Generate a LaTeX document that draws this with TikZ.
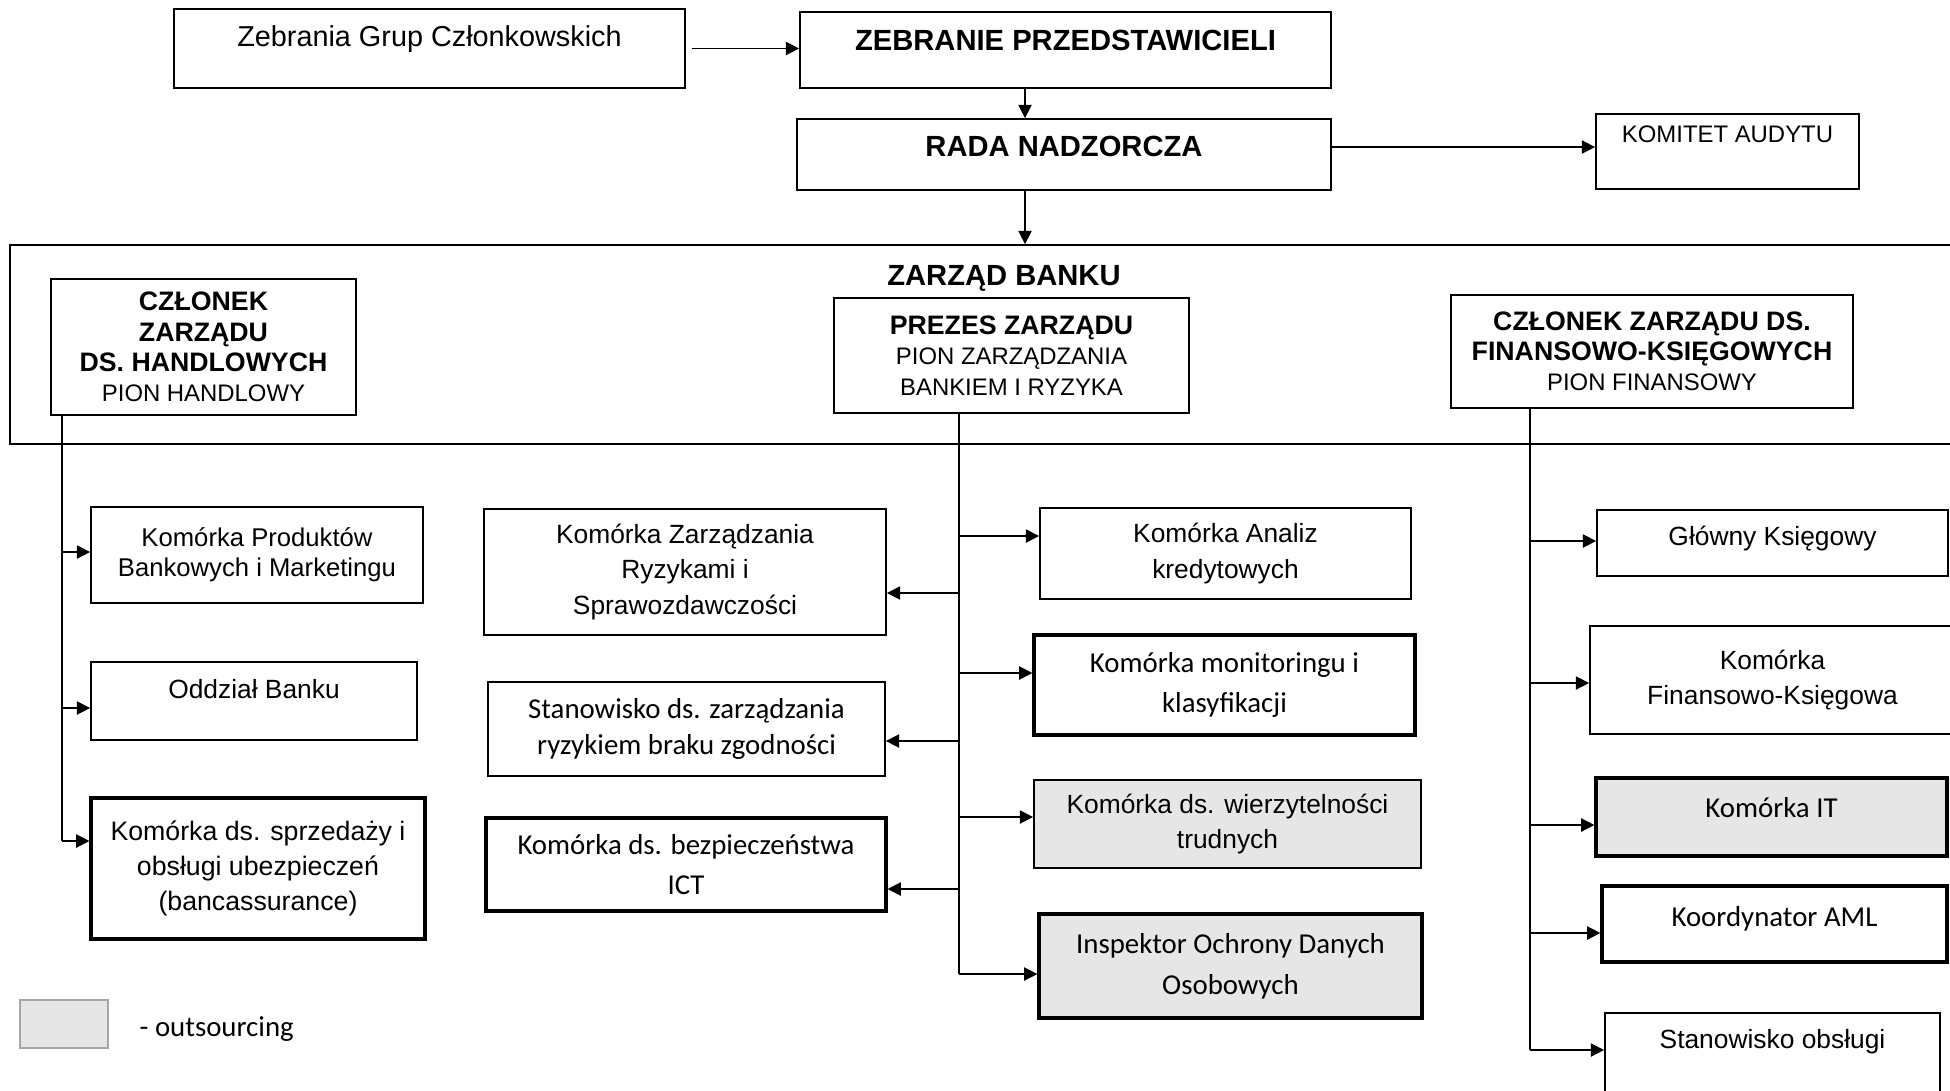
\documentclass[tikz,border=0pt]{standalone}
\usepackage{fontspec}
\setmainfont{Liberation Sans}
\newfontfamily\calib{Carlito}
\usetikzlibrary{arrows.meta}
\definecolor{outgrey}{RGB}{230,230,230}

\begin{document}
\begin{tikzpicture}[
  box/.style={draw, line width=0.5pt, inner sep=0pt, align=center},
  tbox/.style={box, line width=0.9pt},
  arr/.style={line width=0.4pt, -{Triangle[length=3.8pt,width=3.8pt]}},
  cal/.style={font=\calib\fontsize{8.2}{10.2}\selectfont},
  ari/.style={font=\fontsize{7.5}{10.2}\selectfont},
  hdr/.style={font=\fontsize{7.6}{8.6}\selectfont}
]
\useasboundingbox (0,0) rectangle (19.5,-10.9);
\clip (0,0) rectangle (19.5,-10.9);

 \node [box, minimum width=5.11cm, minimum height=0.79cm, text height=10.8pt, text depth=11.7pt, font=\fontsize{8.2}{10}\selectfont] (zgc) at (4.295,-0.485) {Zebrania Grup Członkowskich};
 \node [box, minimum width=5.31cm, minimum height=0.76cm, text height=10.8pt, text depth=10.8pt, font=\fontsize{8.3}{10}\selectfont\bfseries] (zp) at (10.655,-0.50) {ZEBRANIE PRZEDSTAWICIELI};
 \node [box, minimum width=5.34cm, minimum height=0.71cm, text height=10.8pt, text depth=9.4pt, font=\fontsize{8.3}{10}\selectfont\bfseries] (rn) at (10.64,-1.545) {RADA NADZORCZA};
 \node [box, minimum width=2.63cm, minimum height=0.75cm, text height=8pt, text depth=13.3pt, font=\fontsize{6.8}{10}\selectfont] (ka) at (17.275,-1.515) {KOMITET AUDYTU};

\draw [arr] ([xshift=0.06cm]zgc.east) -- (zp.west |- zgc.east);
\draw [arr] ([xshift=-0.405cm]zp.south) -- ([xshift=-0.405cm]zp.south |- rn.north);
\draw [arr] ([yshift=0.075cm]rn.east) -- ([yshift=0.075cm]rn.east -| ka.west);

 \node [box, minimum width=19.6cm, minimum height=1.99cm] (zb) at (9.9,-3.445) {};
 \node [anchor=base, font=\fontsize{8.3}{10}\selectfont\bfseries] (zbt) at (10.04,-2.85) {ZARZĄD BANKU};
\draw [arr] ([xshift=-0.39cm]rn.south) -- ([xshift=-0.39cm]rn.south |- zb.north);

 \node [box, hdr, minimum width=3.05cm, minimum height=1.36cm] (ch) at (2.035,-3.47) {\textbf{CZŁONEK}\\\textbf{ZARZĄDU}\\\textbf{DS. HANDLOWYCH}\\{\fontsize{6.8}{8.6}\selectfont PION HANDLOWY}};
 \node [box, hdr, minimum width=3.55cm, minimum height=1.15cm] (pz) at (10.115,-3.555) {\textbf{PREZES ZARZĄDU}\\{\fontsize{6.8}{8}\selectfont PION ZARZĄDZANIA}\\{\fontsize{6.8}{8}\selectfont BANKIEM I RYZYKA}};
 \node [box, hdr, minimum width=4.02cm, minimum height=1.13cm] (cf) at (16.52,-3.515) {\textbf{CZŁONEK ZARZĄDU DS.}\\\textbf{FINANSOWO-KSIĘGOWYCH}\\{\fontsize{6.8}{8.6}\selectfont PION FINANSOWY}};

 \node [box, minimum width=3.32cm, minimum height=0.96cm, font=\fontsize{7.3}{8.6}\selectfont] (kpb) at (2.57,-5.55) {Komórka Produktów\\Bankowych i Marketingu};
 \node [box, ari, minimum width=3.26cm, minimum height=0.78cm, text height=10.5pt, text depth=11.7pt] (ob) at (2.54,-7.01) {Oddział Banku};
 \node [tbox, minimum width=3.34cm, minimum height=1.41cm, font=\fontsize{7.6}{10}\selectfont] (ksu) at (2.58,-8.685) {Komórka ds. sprzedaży i\\obsługi ubezpieczeń\\(bancassurance)};

 \node [box, ari, minimum width=4.02cm, minimum height=1.26cm] (kzr) at (6.85,-5.72) {Komórka Zarządzania\\Ryzykami i\\Sprawozdawczości};
 \node [box, cal, minimum width=3.97cm, minimum height=0.94cm] (szz) at (6.865,-7.29) {Stanowisko ds. zarządzania\\ryzykiem braku zgodności};
 \node [tbox, cal, minimum width=4.00cm, minimum height=0.93cm] (kbi) at (6.86,-8.645) {Komórka ds. bezpieczeństwa\\[1.2pt]ICT};

 \node [box, ari, minimum width=3.71cm, minimum height=0.91cm] (kak) at (12.255,-5.535) {Komórka Analiz\\kredytowych};
 \node [tbox, cal, minimum width=3.81cm, minimum height=1.00cm] (kmk) at (12.245,-6.85) {Komórka monitoringu i\\[1.2pt]klasyfikacji};
 \node [box, ari, fill=outgrey, minimum width=3.87cm, minimum height=0.88cm] (kwt) at (12.275,-8.24) {Komórka ds. wierzytelności\\trudnych};
 \node [tbox, cal, fill=outgrey, minimum width=3.83cm, minimum height=1.04cm] (iod) at (12.305,-9.66) {Inspektor Ochrony Danych\\[1.4pt]Osobowych};

 \node [box, ari, minimum width=3.51cm, minimum height=0.66cm, text height=10.2pt, text depth=8.6pt] (gk) at (17.725,-5.43) {Główny Księgowy};
 \node [box, ari, minimum width=3.65cm, minimum height=1.08cm] (kfk) at (17.725,-6.80) {Komórka\\Finansowo-Księgowa};
 \node [tbox, cal, fill=outgrey, minimum width=3.51cm, minimum height=0.78cm, text height=11.1pt, text depth=11.1pt] (kit) at (17.715,-8.17) {Komórka IT};
 \node [tbox, cal, minimum width=3.45cm, minimum height=0.76cm, text height=11.4pt, text depth=10.2pt] (kaml) at (17.745,-9.24) {Koordynator AML};
 \node [box, ari, minimum width=3.35cm, minimum height=0.97cm, text height=10pt, text depth=17.6pt] (so) at (17.725,-10.615) {Stanowisko obsługi};

\coordinate (lx) at (0.62,0);
\coordinate (mx) at (9.59,0);
\coordinate (rx) at (15.30,0);

\draw [line width=0.4pt] (ch.south -| lx) -- ([yshift=2.75mm]ksu.west -| lx);
\foreach \n/\d in {kpb/0.3mm, ob/-0.7mm, ksu/2.75mm}
  \draw [arr] ([yshift=\d]\n.west -| lx) -- ([yshift=\d]\n.west);

\draw [line width=0.4pt] (pz.south -| mx) -- ([yshift=-0.8mm]iod.west -| mx);
\foreach \n/\d in {kzr/-2.1mm, szz/-1.2mm, kbi/-2.45mm}
  \draw [arr] ([yshift=\d]\n.east -| mx) -- ([yshift=\d]\n.east);
\foreach \n/\d in {kak/1.75mm, kmk/1.2mm, kwt/0.7mm, iod/-0.8mm}
  \draw [arr] ([yshift=\d]\n.west -| mx) -- ([yshift=\d]\n.west);

\draw [line width=0.4pt] (cf.south -| rx) -- ([yshift=1.15mm]so.west -| rx);
\foreach \n/\d in {gk/0.2mm, kfk/-0.3mm, kit/-0.8mm, kaml/-0.9mm, so/1.15mm}
  \draw [arr] ([yshift=\d]\n.west -| rx) -- ([yshift=\d]\n.west);

 \node [draw=black!35, fill=outgrey, line width=0.4pt, minimum width=0.88cm, minimum height=0.48cm, inner sep=0pt] (leg) at (0.64,-10.24) {};
 \node [cal, anchor=west, inner sep=0pt] (legt) at (1.39,-10.29) {- outsourcing};

\end{tikzpicture}
\end{document}
